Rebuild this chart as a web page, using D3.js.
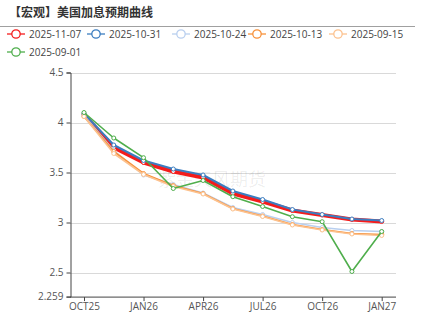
<!DOCTYPE html>
<html><head><meta charset="utf-8">
<script src="https://cdn.jsdelivr.net/npm/d3@7/dist/d3.min.js"></script>
<style>
html,body{margin:0;padding:0;background:#fff;}
svg{display:block;font-family:"Open Sans","Noto Sans CJK SC",sans-serif;}
</style></head>
<body><svg id="c" width="421" height="328"></svg>
<script>
const title = "【宏观】美国加息预期曲线";
const categories = ["OCT25","DEC25","JAN26","MAR26","APR26","JUN26","JUL26","SEP26","OCT26","DEC26","JAN27"];
const seriesNames = ["2025-11-07","2025-10-31","2025-10-24","2025-10-13","2025-09-15","2025-09-01"];
const s20251107 = [4.08,3.75,3.60,3.51,3.45,3.29,3.21,3.12,3.075,3.03,3.01];
const s20251031 = [4.09,3.775,3.62,3.535,3.475,3.315,3.23,3.13,3.08,3.035,3.02];
const s20251024 = [4.07,3.72,3.475,3.38,3.295,3.15,3.08,3.00,2.95,2.92,2.91];
const s20251013 = [4.06,3.71,3.49,3.37,3.29,3.14,3.065,2.98,2.93,2.89,2.88];
const s20250915 = [4.06,3.69,3.48,3.36,3.285,3.135,3.06,2.975,2.925,2.885,2.87];
const s20250901 = [4.10,3.845,3.648,3.34,3.42,3.258,3.16,3.058,3.008,2.51,2.91];
const yTicks = [2.259,2.5,3,3.5,4,4.5];
const xTickLabels = ["OCT25","JAN26","APR26","JUL26","OCT26","JAN27"];
const watermark = "紫金天风期货";

const seriesValues = [s20251107,s20251031,s20251024,s20251013,s20250915,s20250901];
const colors = ["#f41c1c","#3b7dc0","#b9cfef","#f7913a","#fcc28f","#4fae4c"];
const widths = [4,2,1.6,1.6,1.6,1.6];

const svg = d3.select("#c");
// title
svg.append("text").attr("x",9).attr("y",17).attr("font-size",12).attr("font-weight","bold")
  .attr("fill","#333").attr("font-family","'Noto Sans CJK SC',sans-serif").text(title);
svg.append("line").attr("x1",0).attr("x2",415).attr("y1",26.5).attr("y2",26.5).attr("stroke","#a0a0a0").attr("stroke-width",1);

// legend
const legendX = [7,87,172,248,329,7];
const legendY = [34,34,34,34,34,52];
seriesNames.forEach((n,i)=>{
  const g = svg.append("g").attr("transform",`translate(${legendX[i]},${legendY[i]})`);
  g.append("line").attr("x1",0).attr("x2",18).attr("y1",0).attr("y2",0).attr("stroke",colors[i]).attr("stroke-width",1.3);
  g.append("circle").attr("cx",9).attr("cy",0).attr("r",4.2).attr("fill","#fff").attr("stroke",colors[i]).attr("stroke-width",1.3);
  g.append("text").attr("x",22).attr("y",3.8).attr("font-size",10).attr("fill","#444").text(n);
});

const plotL = 70, plotR = 396, plotT = 72.5, plotB = 296.6;
const x = d3.scalePoint().domain(categories).range([84, 381.7]);
const y = d3.scaleLinear().domain([2.259,4.5]).range([plotB, plotT]);

// grid
svg.append("g").selectAll("line").data(yTicks.filter(t=>t>2.259)).join("line")
  .attr("x1",plotL).attr("x2",plotR).attr("y1",d=>Math.round(y(d))+0.5).attr("y2",d=>Math.round(y(d))+0.5)
  .attr("stroke","#d9d9d9").attr("stroke-width",1);

// watermark
svg.append("text").attr("x",212).attr("y",186).attr("text-anchor","middle").attr("font-size",18)
  .attr("fill","#000").attr("fill-opacity",0.08).attr("font-family","'Noto Sans CJK SC',sans-serif").text(watermark);

// axes
const yAxis = d3.axisLeft(y).tickValues(yTicks).tickFormat(d=>String(d)).tickSize(4).tickPadding(3);
const gy = svg.append("g").attr("transform",`translate(${plotL+0.5},0)`).call(yAxis);
gy.select(".domain").attr("stroke","#444");
gy.selectAll(".tick line").attr("stroke","#444");
gy.selectAll(".tick text").attr("font-size",10).attr("fill","#555").attr("font-family","'Open Sans',sans-serif");

const xAxis = d3.axisBottom(x).tickValues(xTickLabels).tickSize(4).tickPadding(2).tickSizeOuter(0);
const gx = svg.append("g").attr("transform",`translate(0,${plotB+0.5})`).call(xAxis);
gx.select(".domain").attr("d",`M${plotL},0H${plotR}`).attr("stroke","#444");
gx.selectAll(".tick line").attr("stroke","#444");
gx.selectAll(".tick text").attr("font-size",10).attr("fill","#555").attr("font-family","'Open Sans',sans-serif");

// lines
const line = d3.line().x((d,i)=>x(categories[i])).y(d=>y(d));
seriesValues.forEach((vals,k)=>{
  svg.append("path").datum(vals).attr("d",line).attr("fill","none")
    .attr("stroke",colors[k]).attr("stroke-width",widths[k]).attr("stroke-linejoin","round");
  svg.append("g").selectAll("circle").data(vals).join("circle")
    .attr("cx",(d,i)=>x(categories[i])).attr("cy",d=>y(d)).attr("r",2)
    .attr("fill","#fff").attr("stroke",colors[k]).attr("stroke-width",1);
});
</script></body></html>
